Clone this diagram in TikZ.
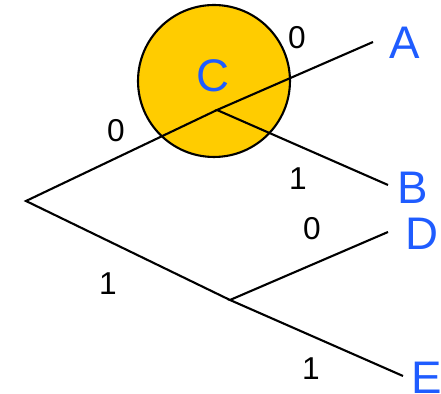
\documentclass[tikz,border=0pt]{standalone}
\usepackage{fontspec}
\setmainfont{Liberation Sans}
\usetikzlibrary{positioning}
\definecolor{amarilloC}{HTML}{FFCC00}
\definecolor{azulHoja}{HTML}{1F5CFF}

\begin{document}
\begin{tikzpicture}[
        x=0.02cm, y=-0.02cm,
        rama/.style={draw=black, line width=1.2pt},
        bit/.style={font=\fontsize{18}{18}\selectfont, inner sep=0pt},
        hoja/.style={text=azulHoja, font=\fontsize{26}{26}\selectfont, inner sep=0pt},
        zona/.style={circle, draw=black, line width=1.2pt, fill=amarilloC, minimum size=3.04cm, inner sep=0pt}
    ]
        \useasboundingbox (0,0) rectangle (441,394);

        % circulo resaltado
        \node[zona] (circ) at (214,81) {};
        \node[hoja] (C) at (213,76) {C};

        % nodos internos y extremos de ramas
        \coordinate (raiz) at (26,201);
        \coordinate (n0) at (217,110);
        \coordinate (n1) at (230,300);
        \coordinate (fa) at (373,42);
        \coordinate (fb) at (388,185);
        \coordinate (fd) at (388,232);
        \coordinate (fe) at (403,376);

        \node[hoja] (A) at (405,43) {A};
        \node[hoja] (B) at (413,188) {B};
        \node[hoja] (D) at (422,234) {D};
        \node[hoja] (E) at (427,378) {E};

        \draw[rama] (n0) -- (raiz) -- (n1);
        \draw[rama] (fa) -- (n0) -- (fb);
        \draw[rama] (fd) -- (n1) -- (fe);

        % etiquetas de bits
        \node[bit] (b0) at (116,131) {0};
        \node[bit] (b1) at (108,284) {1};
        \node[bit] (b00) at (297,38) {0};
        \node[bit] (b01) at (298,179) {1};
        \node[bit] (b10) at (312,229) {0};
        \node[bit] (b11) at (311,369) {1};
\end{tikzpicture}
\end{document}
